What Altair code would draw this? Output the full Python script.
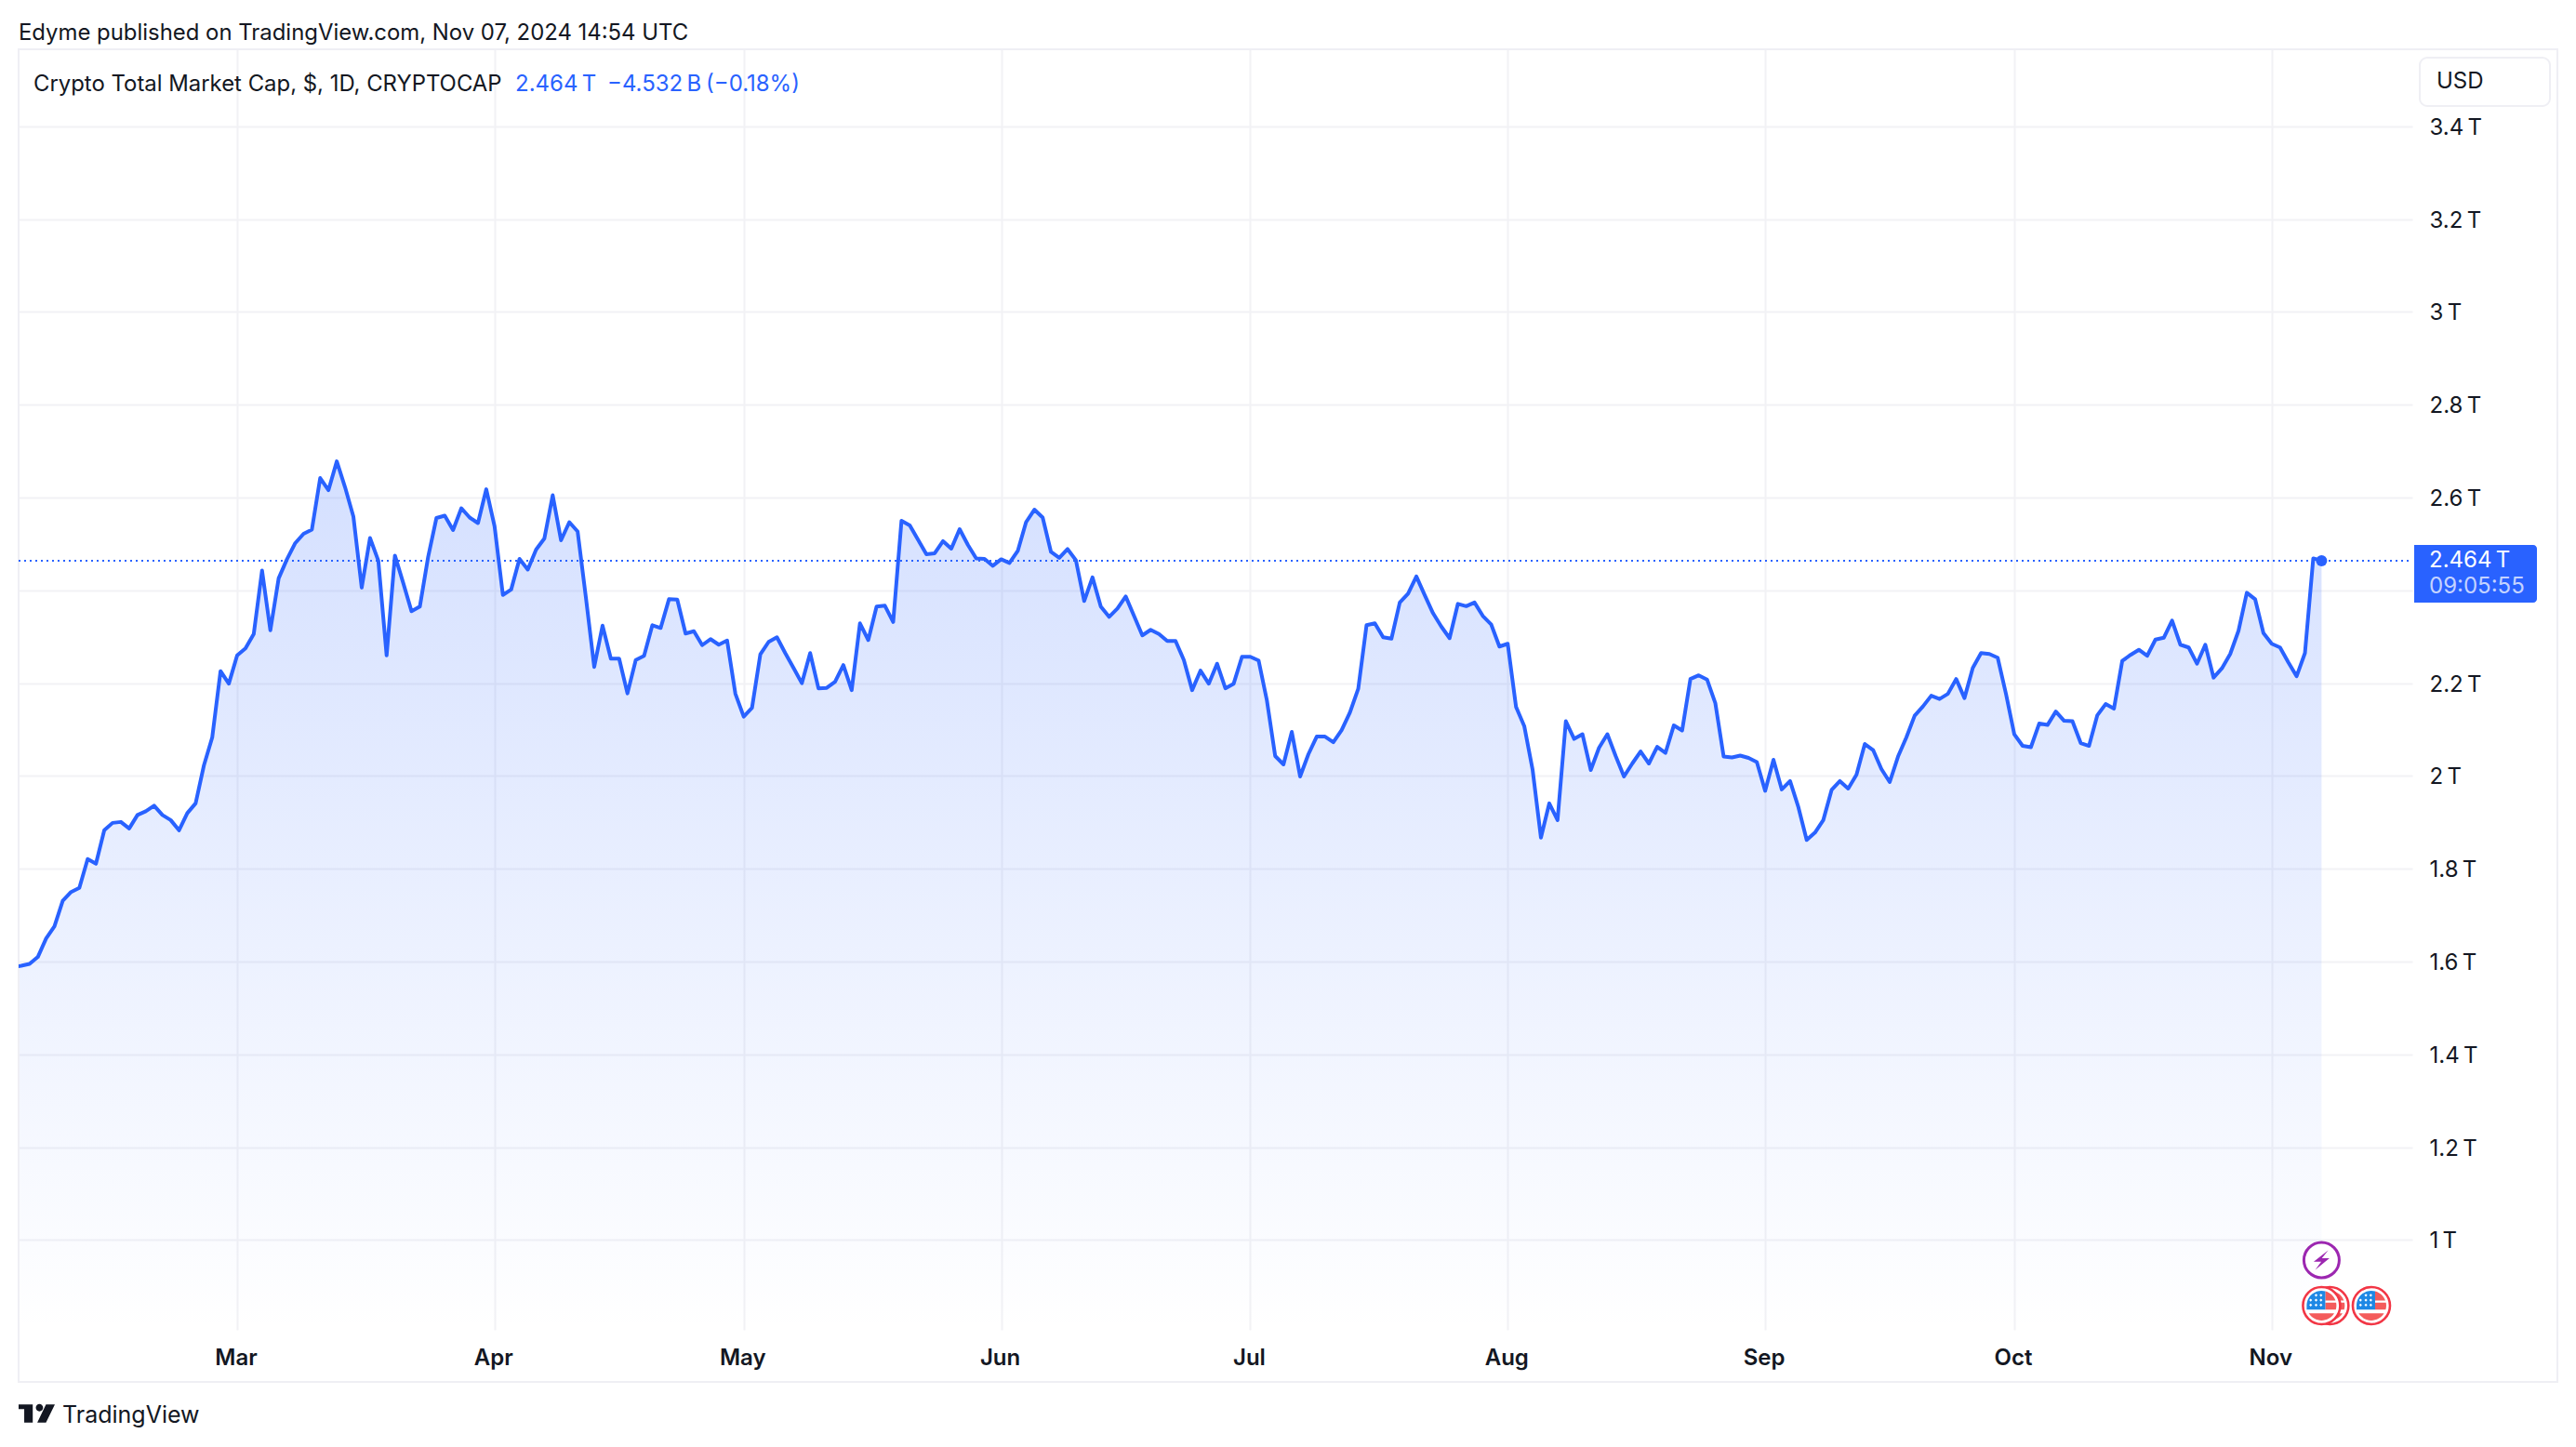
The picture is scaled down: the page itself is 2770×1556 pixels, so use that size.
import altair as alt
import pandas as pd

# Daily close, in trillions of USD, from 2024-02-03 to 2024-11-07
cap_feb = [1.588, 1.591, 1.595, 1.610, 1.650, 1.676, 1.731, 1.750, 1.759, 1.821, 1.811, 1.883, 1.899, 1.901,
           1.887, 1.916, 1.924, 1.936, 1.916, 1.905, 1.883, 1.920, 1.941, 2.023, 2.083, 2.226, 2.199]
cap_mar = [2.260, 2.275, 2.306, 2.443, 2.314, 2.426, 2.467, 2.502, 2.522, 2.531, 2.642, 2.616, 2.678, 2.622,
           2.559, 2.406, 2.513, 2.464, 2.260, 2.475, 2.416, 2.355, 2.365, 2.472, 2.556, 2.561, 2.530, 2.577,
           2.557, 2.545, 2.618]
cap_apr = [2.538, 2.390, 2.402, 2.468, 2.445, 2.488, 2.512, 2.605, 2.508, 2.547, 2.527, 2.384, 2.235, 2.324,
           2.253, 2.253, 2.178, 2.250, 2.259, 2.325, 2.319, 2.381, 2.380, 2.307, 2.312, 2.282, 2.295, 2.283,
           2.292, 2.177]
cap_may = [2.128, 2.147, 2.262, 2.289, 2.299, 2.265, 2.233, 2.200, 2.265, 2.189, 2.190, 2.203, 2.239, 2.185,
           2.329, 2.293, 2.365, 2.367, 2.332, 2.550, 2.540, 2.509, 2.478, 2.480, 2.506, 2.490, 2.532, 2.498,
           2.469, 2.468, 2.453]
cap_jun = [2.467, 2.459, 2.485, 2.547, 2.574, 2.557, 2.483, 2.470, 2.489, 2.465, 2.377, 2.428, 2.365, 2.343,
           2.361, 2.387, 2.345, 2.303, 2.315, 2.306, 2.291, 2.291, 2.250, 2.185, 2.227, 2.199, 2.242, 2.189,
           2.199, 2.257]
cap_jul = [2.257, 2.249, 2.163, 2.043, 2.025, 2.095, 1.999, 2.047, 2.085, 2.085, 2.073, 2.099, 2.137, 2.188,
           2.325, 2.329, 2.299, 2.296, 2.374, 2.393, 2.430, 2.390, 2.351, 2.322, 2.297, 2.371, 2.366, 2.374,
           2.345, 2.327, 2.279]
cap_aug = [2.285, 2.149, 2.107, 2.013, 1.867, 1.941, 1.905, 2.118, 2.080, 2.090, 2.013, 2.061, 2.090, 2.043,
           1.999, 2.027, 2.053, 2.027, 2.063, 2.050, 2.109, 2.098, 2.209, 2.217, 2.208, 2.157, 2.042, 2.040,
           2.044, 2.039, 2.030]
cap_sep = [1.968, 2.035, 1.971, 1.989, 1.933, 1.862, 1.878, 1.905, 1.970, 1.989, 1.973, 2.003, 2.069, 2.056,
           2.015, 1.987, 2.042, 2.083, 2.130, 2.150, 2.173, 2.166, 2.177, 2.209, 2.168, 2.233, 2.265, 2.263,
           2.255, 2.177]
cap_oct = [2.090, 2.065, 2.062, 2.113, 2.110, 2.139, 2.119, 2.118, 2.071, 2.065, 2.131, 2.155, 2.145, 2.248,
           2.261, 2.272, 2.259, 2.294, 2.298, 2.335, 2.283, 2.277, 2.242, 2.283, 2.212, 2.232, 2.263, 2.313,
           2.395, 2.381, 2.308]
cap_nov = [2.285, 2.277, 2.245, 2.215, 2.265, 2.469, 2.464]

cap = cap_feb + cap_mar + cap_apr + cap_may + cap_jun + cap_jul + cap_aug + cap_sep + cap_oct + cap_nov
dates = pd.date_range("2024-02-03", periods=len(cap), freq="D")
LAST = 2.464
Y_MIN, Y_MAX = 0.8066, 3.566

price_ticks = [1.0, 1.2, 1.4, 1.6, 1.8, 2.0, 2.2, 2.4, 2.6, 2.8, 3.0, 3.2, 3.4]
month_ticks = ["2024-03-01", "2024-04-01", "2024-05-01", "2024-06-01", "2024-07-01", "2024-08-01",
               "2024-09-01", "2024-10-01", "2024-11-01"]

FONT = "Inter"
INK = "#131722"
BLUE = "#2962FF"
GRID = "#F2F2F5"
FRAME = "#EFEFF4"
NS = "\u202f"
W, H = 2574, 1377

df = pd.DataFrame({"date": dates, "cap": cap, "base": [Y_MIN] * len(cap)})
one = pd.DataFrame({"a": [0]})

xs = alt.Scale(domain=[alt.DateTime(year=2024, month="Feb", date=3, hours=16, minutes=25),
                       alt.DateTime(year=2024, month="Nov", date=17, hours=22, minutes=19)])
ys = alt.Scale(domain=[Y_MIN, Y_MAX], nice=False, zero=False)

x_axis = alt.Axis(values=[alt.DateTime(year=2024, month=pd.Timestamp(m).month, date=1) for m in month_ticks],
                  format="%b", title=None,
                  grid=True, gridColor=GRID, gridWidth=2, domain=False, ticks=False,
                  labelFont=FONT, labelFontSize=24, labelFontWeight=600, labelColor=INK,
                  labelPadding=18, labelOffset=-1.5, labelOverlap=False, labelFlush=False)
# the 2.4 T label lies under the last-price box in the reference, so only its gridline shows
y_axis = alt.Axis(values=price_ticks, orient="right", title=None, grid=True, gridColor=GRID, gridWidth=2,
                  domain=False, ticks=False, labelFont=FONT, labelFontSize=24, labelColor=INK, labelPadding=18,
                  labelOffset=1.5, labelOverlap=False, labelFlush=False, labelAlign="left",
                  labelExpr=f"abs(datum.value - 2.4) < 0.01 ? '' : format(datum.value, '.1~f') + '{NS}T'")

X = alt.X("date:T", scale=xs, axis=x_axis)
Y = alt.Y("cap:Q", scale=ys, axis=y_axis)

area = alt.Chart(df).mark_area(
    clip=True,
    color=alt.Gradient(gradient="linear", x1=0, x2=0, y1=0, y2=1,
                       stops=[alt.GradientStop(color="rgba(41,98,255,0.2)", offset=0),
                              alt.GradientStop(color="rgba(41,98,255,0)", offset=1)]),
).encode(x=X, y=Y, y2=alt.Y2("base:Q"))

line = alt.Chart(df).mark_line(color=BLUE, strokeWidth=4, clip=True, strokeJoin="round").encode(x=X, y=Y)

price_line = alt.Chart(one).mark_rule(color=BLUE, strokeWidth=2, strokeDash=[2, 4]).encode(
    y=alt.datum(LAST, scale=ys, axis=y_axis), x=alt.value(0), x2=alt.value(2570))

last_point = alt.Chart(df.tail(1)).mark_point(shape="circle", filled=True, color=BLUE, size=144, opacity=1).encode(x=X, y=Y)

def box(x, x2, y, y2, **kw):
    return alt.Chart(one).mark_rect(**kw).encode(
        x=alt.value(x), x2=alt.value(x2), y=alt.value(y), y2=alt.value(y2))

def text(s, x, y, size=24, color=INK, weight=400):
    return alt.Chart(pd.DataFrame({"t": [s]})).mark_text(
        font=FONT, fontSize=size, color=color, fontWeight=weight, align="left", baseline="middle"
    ).encode(text="t:N", x=alt.value(x), y=alt.value(y))

frame = box(0, 2730, 0, 1433, stroke=FRAME, strokeWidth=2, fillOpacity=0)
usd_box = box(2582, 2722, 9, 61, stroke=FRAME, strokeWidth=2, fillOpacity=0, cornerRadius=8)
label_box = box(2576, 2708, 533, 595, color=BLUE, cornerRadiusTopRight=4, cornerRadiusBottomRight=4)

texts = [
    text("Edyme published on TradingView.com, Nov 07, 2024 14:54 UTC", 0, -17, size=23.9),
    text("Crypto Total Market Cap, $, 1D, CRYPTOCAP", 16, 38, size=23.9),
    text(f"2.464{NS}T", 534, 38, color=BLUE),
    text(f"\u22124.532{NS}B", 633, 38, color=BLUE),
    text("(\u22120.18%)", 739, 38, color=BLUE),
    text("USD", 2600, 35),
    text(f"2.464{NS}T", 2592, 550, color="#FFFFFF"),
    text("09:05:55", 2592, 578, color="#C4D3FF"),
    text("TradingView", 47, 1469, size=25),
]

# event icons under the last bars
def diamonds(points, r=0.1):
    return " ".join(f"M{x} {y - r} L{x + r} {y} L{x} {y + r} L{x - r} {y} Z" for x, y in points)

BOLT = "M0.42 -0.62 L-0.5 0.1 L-0.02 0.1 L-0.4 0.62 L0.5 -0.12 L0.02 -0.12 Z"
CANTON = "M-1 0.27 L-1 0 A1 1 0 0 1 0.25 -0.97 L0.25 0.27 Z"
STRIPES = ("M0.25 -0.97 A1 1 0 0 1 0.94 -0.35 L0.25 -0.35 Z "
           "M0.25 -0.2 L0.98 -0.2 A1 1 0 0 1 0.96 0.27 L0.25 0.27 Z "
           "M-0.85 0.52 L0.85 0.52 A1 1 0 0 1 -0.85 0.52 Z")
STARS = diamonds([(-0.37, -0.7), (-0.04, -0.7), (-0.73, -0.37), (-0.37, -0.37), (-0.04, -0.37),
                  (-0.73, -0.04), (-0.37, -0.04), (-0.04, -0.04)])
LOGO = ("M-1 -0.5 L-0.22 -0.5 L-0.22 0.5 L-0.69 0.5 L-0.69 -0.24 L-1 -0.24 Z "
        "M-0.05 -0.32 A0.2 0.2 0 1 1 0.35 -0.32 A0.2 0.2 0 1 1 -0.05 -0.32 Z "
        "M0.51 -0.5 L1 -0.5 L0.51 0.5 L0.03 0.5 Z")

def icon(day, y, shape, size, **kw):
    d = pd.DataFrame({"date": [pd.Timestamp(day)]})
    return alt.Chart(d).mark_point(shape=shape, size=size, opacity=1, **kw).encode(x=X, y=alt.value(y))

def flag(day):
    return [
        icon(day, 1351, "circle", 1600, filled=False, fill="#FFFFFF", stroke="#F23645", strokeWidth=2.6),
        icon(day, 1351, STRIPES, 1024, filled=True, color="#F45B5B", strokeWidth=0),
        icon(day, 1351, CANTON, 1024, filled=True, color="#1E88E5", strokeWidth=0),
        icon(day, 1351, STARS, 1024, filled=True, color="#FFFFFF", strokeWidth=0),
    ]

icons = [
    icon("2024-11-07", 1302, "circle", 1444, filled=False, fill="#FFFFFF", stroke="#9C27B0", strokeWidth=3),
    icon("2024-11-07", 1302, BOLT, 1156, filled=True, color="#9C27B0", strokeWidth=0),
] + flag("2024-11-08") + flag("2024-11-07") + flag("2024-11-13")

logo = alt.Chart(one).mark_point(shape=LOGO, size=1521, filled=True, color=INK, opacity=1, strokeWidth=0).encode(
    x=alt.value(19.5), y=alt.value(1467))

chart = alt.layer(area, frame, usd_box, line, price_line, last_point, label_box, *texts, *icons, logo).properties(
    width=W, height=H,
    padding={"left": 12, "top": 45, "right": 160, "bottom": 110},
    autosize=alt.AutoSizeParams(type="none"),
    background="#FFFFFF",
).configure_view(stroke=None)

chart.save("out.html", embed_options={"renderer": "svg", "actions": False})
